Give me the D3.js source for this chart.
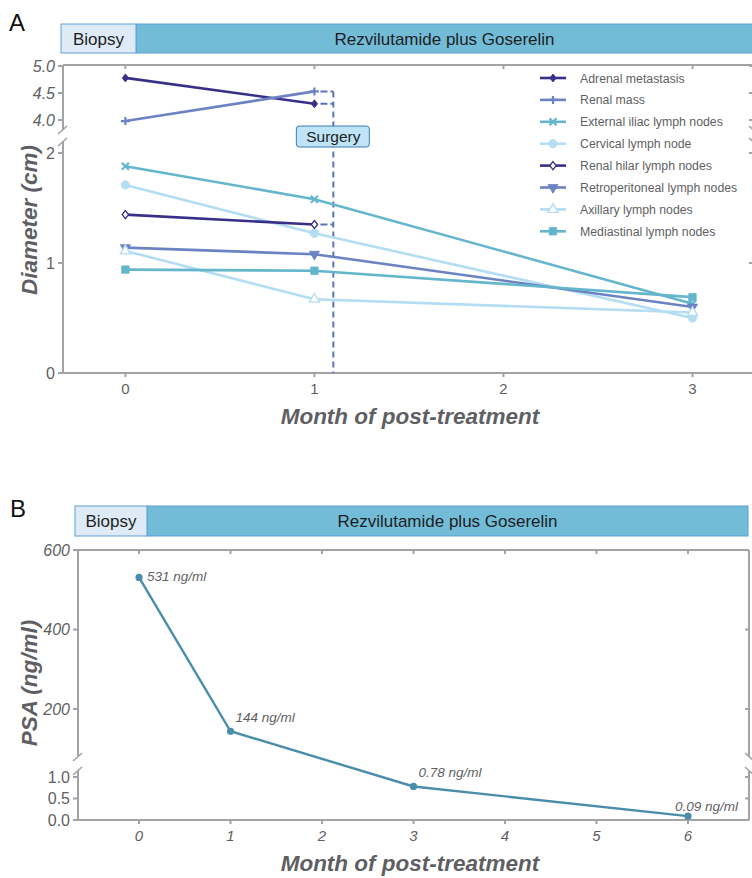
<!DOCTYPE html>
<html>
<head>
<meta charset="utf-8">
<script src="https://cdn.jsdelivr.net/npm/d3@7"></script>
<style>
  body { margin: 0; background: #fff; }
  svg { font-family: "Liberation Sans", Arial, sans-serif; }
</style>
</head>
<body>
<svg id="chart" width="752" height="878"></svg>
<script>
// ---- data ----
const monthsA = [0, 1, 3];
const adrenalMetastasis = [4.78, 4.3];
const renalMass = [3.98, 4.53];
const externalIliac = [1.88, 1.58, 0.63];
const cervical = [1.71, 1.27, 0.5];
const renalHilar = [1.44, 1.35];
const retroperitoneal = [1.14, 1.08, 0.6];
const axillary = [1.11, 0.67, 0.55];
const mediastinal = [0.94, 0.93, 0.69];
const surgeryMonth = 1.1;

const psaMonths = [0, 1, 3, 6];
const psaValues = [531, 144, 0.78, 0.09];
const psaLabels = ["531 ng/ml", "144 ng/ml", "0.78 ng/ml", "0.09 ng/ml"];

const ticksAUpper = [5.0, 4.5, 4.0];
const ticksALower = [2, 1, 0];
const ticksBUpper = [600, 400, 200];
const ticksBLower = [1.0, 0.5, 0.0];

const navy = "#382f88";
const midBlue = "#6b83c3";
const teal = "#63b6cc";
const pale = "#b2ddf3";
const axisGrey = "#a3a3a6";
const textGrey = "#5f5f63";

const lesions = [
  { name: "Adrenal metastasis", values: adrenalMetastasis, color: navy, shape: "diamond", open: false, surgery: true },
  { name: "Renal mass", values: renalMass, color: midBlue, shape: "plus", open: false, surgery: true },
  { name: "External iliac lymph nodes", values: externalIliac, color: teal, shape: "times", open: false },
  { name: "Cervical lymph node", values: cervical, color: pale, shape: "circle", open: false },
  { name: "Renal hilar lymph nodes", values: renalHilar, color: navy, shape: "diamond", open: true, surgery: true },
  { name: "Retroperitoneal lymph nodes", values: retroperitoneal, color: midBlue, shape: "down", open: false },
  { name: "Axillary lymph nodes", values: axillary, color: pale, shape: "triangle", open: true },
  { name: "Mediastinal lymph nodes", values: mediastinal, color: teal, shape: "square", open: false }
];

const svg = d3.select("#chart");

function symbolPath(shape) {
  if (shape === "diamond") return "M0,-4L3.2,0L0,4L-3.2,0Z";
  if (shape === "plus") return "M-4.5,0L4.5,0M0,-4L0,4";
  if (shape === "times") return "M-5,0L5,0M0,-5L0,5";
  if (shape === "circle") return d3.symbol(d3.symbolCircle, 55)();
  if (shape === "square") return d3.symbol(d3.symbolSquare, 55)();
  return d3.symbol(d3.symbolTriangle, 44)();
}

function drawMarker(g, s, x, y) {
  var rot = s.shape === "times" ? 45 : s.shape === "down" ? 180 : 0;
  var stroked = s.shape === "plus" || s.shape === "times";
  g.append("path")
    .attr("d", symbolPath(s.shape))
    .attr("transform", `translate(${x},${y}) rotate(${rot})`)
    .attr("fill", stroked ? "none" : s.open ? "#fff" : s.color)
    .attr("stroke", s.color)
    .attr("stroke-width", stroked ? 2.2 : s.open ? 1.3 : 0.8);
}

// header bar with Biopsy + treatment boxes
function drawHeader(x0, x1, x2, y, h) {
  svg.append("rect").attr("x", x1).attr("y", y).attr("width", x2 - x1).attr("height", h)
    .attr("fill", "#72bcd8").attr("stroke", "#5d9fd6").attr("stroke-width", 1);
  svg.append("rect").attr("x", x0).attr("y", y).attr("width", x1 - x0).attr("height", h)
    .attr("fill", "#deeaf6").attr("stroke", "#5d9fd6").attr("stroke-width", 1);
  svg.append("text").attr("x", (x0 + x1) / 2).attr("y", y + h / 2 + 6)
    .attr("text-anchor", "middle").attr("font-size", "17px").attr("fill", "#1e1e1e").text("Biopsy");
  svg.append("text").attr("x", (x1 + x2) / 2).attr("y", y + h / 2 + 6)
    .attr("text-anchor", "middle").attr("font-size", "17px").attr("fill", "#1e1e1e")
    .text("Rezvilutamide plus Goserelin");
}

// box frame with broken y axis on both sides
function drawFrame(p) {
  var g = svg.append("g").attr("stroke", axisGrey).attr("stroke-width", 2).attr("fill", "none");
  g.append("line").attr("x1", p.left).attr("x2", p.right).attr("y1", p.top).attr("y2", p.top);
  g.append("line").attr("x1", p.left - 5).attr("x2", p.right).attr("y1", p.bottom).attr("y2", p.bottom);
  [p.left, p.right].forEach(function (x, i) {
    g.append("line").attr("x1", x).attr("x2", x).attr("y1", p.top).attr("y2", p.breakTop);
    g.append("line").attr("x1", x).attr("x2", x).attr("y1", p.breakBottom).attr("y2", p.bottom);
    var d = i === 0 ? 1 : -1;
    g.append("line").attr("x1", x - 5 * d).attr("x2", x + 4 * d)
      .attr("y1", p.breakTop + 4).attr("y2", p.breakTop - 4).attr("stroke-width", 1.6);
    g.append("line").attr("x1", x - 5 * d).attr("x2", x + 4 * d)
      .attr("y1", p.breakBottom + 4).attr("y2", p.breakBottom - 4).attr("stroke-width", 1.6);
  });
}

function yTicks(scale, ticks, p, italic, fmt) {
  var g = svg.append("g");
  ticks.forEach(function (t) {
    var y = scale(t);
    g.append("line").attr("x1", p.left - 5).attr("x2", p.left).attr("y1", y).attr("y2", y)
      .attr("stroke", axisGrey).attr("stroke-width", 2);
    g.append("line").attr("x1", p.right - 4).attr("x2", p.right).attr("y1", y).attr("y2", y)
      .attr("stroke", axisGrey).attr("stroke-width", 2);
    g.append("text").attr("x", p.left - 8).attr("y", y + 5.5).attr("text-anchor", "end")
      .attr("font-size", "16px").attr("fill", textGrey)
      .attr("font-style", italic ? "italic" : "normal").text(fmt(t));
  });
}

function xTicks(scale, ticks, p, italic) {
  var g = svg.append("g");
  ticks.forEach(function (t) {
    var x = scale(t);
    g.append("line").attr("x1", x).attr("x2", x).attr("y1", p.top).attr("y2", p.top + 4)
      .attr("stroke", axisGrey).attr("stroke-width", 2);
    g.append("line").attr("x1", x).attr("x2", x).attr("y1", p.bottom).attr("y2", p.bottom + 4)
      .attr("stroke", axisGrey).attr("stroke-width", 2);
    g.append("text").attr("x", x).attr("y", p.bottom + 21).attr("text-anchor", "middle")
      .attr("font-size", "15px").attr("fill", textGrey)
      .attr("font-style", italic ? "italic" : "normal").text(t);
  });
}

function axisTitles(xLabel, yLabel, p, yCenter) {
  svg.append("text").attr("x", 410).attr("y", p.bottom + 51).attr("text-anchor", "middle")
    .attr("font-size", "22.5px").attr("font-weight", "bold").attr("font-style", "italic")
    .attr("fill", textGrey).text(xLabel);
  svg.append("text").attr("transform", `translate(37,${yCenter}) rotate(-90)`)
    .attr("text-anchor", "middle")
    .attr("font-size", "22.5px").attr("font-weight", "bold").attr("font-style", "italic")
    .attr("fill", textGrey).text(yLabel);
}

// ================= Panel A =================
function drawPanelA() {
  var p = { left: 63, right: 753, top: 65, bottom: 373, breakTop: 130, breakBottom: 142 };
  svg.append("text").attr("x", 9).attr("y", 31).attr("font-size", "24px").attr("fill", "#111").text("A");
  drawHeader(61, 136, 753, 24, 29);

  var x = d3.scaleLinear().domain([-0.33, 3.32]).range([p.left, p.right]);
  var yUp = d3.scaleLinear().domain([4.0, 5.0]).range([120, 66]);
  var yLo = d3.scaleLinear().domain([0, 2]).range([373, 153]);
  var y = function (v) { return v >= 3 ? yUp(v) : yLo(v); };

  drawFrame(p);
  yTicks(yUp, ticksAUpper, p, true, d3.format(".1f"));
  yTicks(yLo, ticksALower, p, false, d3.format("d"));
  xTicks(x, [0, 1, 2, 3], p, false);
  axisTitles("Month of post-treatment", "Diameter (cm)", p, 220);

  // surgery marker: dashed leaders into a vertical dashed line
  var dash = svg.append("g").attr("stroke", "#5b73bf").attr("stroke-width", 2)
    .attr("stroke-dasharray", "6,4").attr("fill", "none");
  var surgeryTop = d3.min(lesions.filter((s) => s.surgery), (s) => y(s.values[1]));
  dash.append("line").attr("x1", x(surgeryMonth)).attr("x2", x(surgeryMonth))
    .attr("y1", surgeryTop).attr("y2", p.bottom);
  lesions.filter((s) => s.surgery).forEach(function (s) {
    dash.append("line").attr("x1", x(1) + 6).attr("x2", x(surgeryMonth))
      .attr("y1", y(s.values[1])).attr("y2", y(s.values[1])).attr("stroke-dasharray", "7,3");
  });

  var line = d3.line().x((d) => x(d.m)).y((d) => y(d.v));
  var lines = svg.append("g");
  lesions.forEach(function (s) {
    var pts = s.values.map((v, i) => ({ m: monthsA[i], v: v }));
    lines.append("path").datum(pts).attr("d", line)
      .attr("fill", "none").attr("stroke", s.color).attr("stroke-width", 2.6);
  });
  lesions.forEach(function (s) {
    s.values.forEach(function (v, i) { drawMarker(lines, s, x(monthsA[i]), y(v)); });
  });

  // Surgery label
  var sx = x(surgeryMonth);
  svg.append("rect").attr("x", sx - 37).attr("y", 126).attr("width", 73).attr("height", 21)
    .attr("rx", 3).attr("fill", "#bfe4f8").attr("stroke", "#3b7bb8").attr("stroke-width", 1);
  svg.append("text").attr("x", sx).attr("y", 142).attr("text-anchor", "middle")
    .attr("font-size", "15.5px").attr("fill", "#222").text("Surgery");

  // legend
  var legend = svg.append("g");
  lesions.forEach(function (s, i) {
    var ly = 78 + i * 21.9;
    legend.append("line").attr("x1", 540).attr("x2", 566).attr("y1", ly).attr("y2", ly)
      .attr("stroke", s.color).attr("stroke-width", 2.6);
    drawMarker(legend, s, 553, ly);
    legend.append("text").attr("x", 580).attr("y", ly + 4.5).attr("font-size", "12.3px")
      .attr("fill", textGrey).text(s.name);
  });
}

// ================= Panel B =================
function drawPanelB() {
  var p = { left: 78, right: 749, top: 550, bottom: 820, breakTop: 757, breakBottom: 771 };
  svg.append("text").attr("x", 10).attr("y", 517).attr("font-size", "24px").attr("fill", "#111").text("B");
  drawHeader(75, 147, 748, 506, 30);

  var x = d3.scaleLinear().domain([-0.667, 6.667]).range([p.left, p.right]);
  var yUp = d3.scaleLinear().domain([200, 600]).range([709, 550]);
  var yLo = d3.scaleLinear().domain([0, 1]).range([820, 777]);
  var y = function (v) { return v >= 50 ? yUp(v) : yLo(v); };

  drawFrame(p);
  yTicks(yUp, ticksBUpper, p, true, d3.format("d"));
  yTicks(yLo, ticksBLower, p, false, d3.format(".1f"));
  xTicks(x, d3.range(0, 7), p, true);
  axisTitles("Month of post-treatment", "PSA (ng/ml)", p, 683);

  var pts = psaValues.map((v, i) => ({ m: psaMonths[i], v: v, label: psaLabels[i] }));
  var line = d3.line().x((d) => x(d.m)).y((d) => y(d.v));
  svg.append("path").datum(pts).attr("d", line)
    .attr("fill", "none").attr("stroke", "#4a8dab").attr("stroke-width", 2.4);
  svg.append("g").selectAll("circle").data(pts).join("circle")
    .attr("cx", (d) => x(d.m)).attr("cy", (d) => y(d.v)).attr("r", 3.6).attr("fill", "#4a8dab");

  var offs = [[8, 4], [5, -9], [5, -9], [-13, -5]];
  svg.append("g").selectAll("text").data(pts).join("text")
    .attr("x", (d, i) => x(d.m) + offs[i][0]).attr("y", (d, i) => y(d.v) + offs[i][1])
    .attr("font-size", "13.5px").attr("font-style", "italic").attr("fill", textGrey)
    .text((d) => d.label);
}

drawPanelA();
drawPanelB();
</script>
</body>
</html>
